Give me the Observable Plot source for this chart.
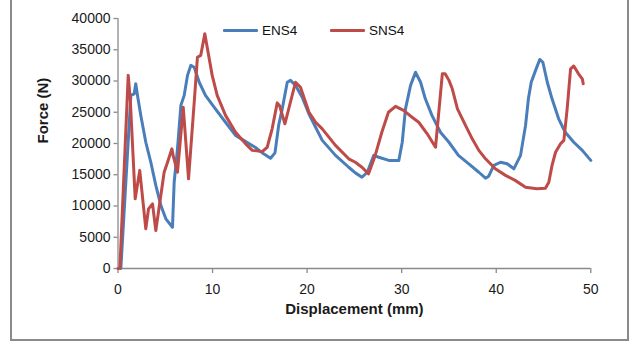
<!DOCTYPE html>
<html>
<head>
<meta charset="utf-8">
<script src="https://cdn.jsdelivr.net/npm/d3@7"></script>
<script src="https://cdn.jsdelivr.net/npm/@observablehq/plot@0.6"></script>
<style>
  body { margin: 0; background: #fff; }
  #wrap { position: relative; width: 629px; height: 342px; overflow: hidden; background: #fff; }
  #frame { position: absolute; left: 10px; top: -5px; width: 619px; height: 346px; box-sizing: border-box; border: 2px solid #8a8a8a; }
  #chart { position: absolute; left: 0; top: 0; }
  .leg { position: absolute; display: flex; align-items: center; font-family: "Liberation Sans", Arial, sans-serif; font-size: 13.5px; color: #111; }
  .leg .sw { width: 35px; height: 3px; margin-right: 4px; border-radius: 1px; }
</style>
</head>
<body>
<div id="wrap">
  <div id="frame"></div>
  <div id="chart"></div>
  <div id="legend"></div>
</div>
<script>
// ---- data ----
const seriesNames = ["ENS4", "SNS4"];
const seriesColors = ["#4A7EBB", "#BE4B48"];

const ens4X = [0.2, 0.3, 1.36, 1.71, 1.88, 2.06, 2.41, 2.94, 3.47, 4.0, 4.53, 5.06, 5.76, 5.94, 6.29, 6.65, 7.0, 7.35, 7.7, 8.06, 8.59, 9.25, 10.3, 11.37, 12.43, 13.5, 14.5, 15.4, 16.13, 16.6, 17.0, 17.37, 17.9, 18.24, 18.77, 19.48, 20.18, 20.9, 21.6, 23.0, 24.4, 25.1, 25.8, 26.36, 27.05, 27.58, 28.64, 29.7, 30.06, 30.4, 30.94, 31.46, 32.0, 32.5, 33.2, 34.1, 35.0, 36.0, 37.1, 38.16, 38.87, 39.2, 39.75, 40.45, 41.16, 41.86, 42.57, 43.1, 43.4, 43.7, 44.16, 44.6, 44.93, 45.4, 45.9, 46.6, 47.3, 48.2, 49.1, 50.0];
const ens4Y = [0, 0, 27700, 27950, 29550, 27700, 24500, 20200, 17000, 13300, 10100, 7950, 6600, 13800, 19150, 26100, 27700, 30900, 32500, 32200, 29800, 27700, 25550, 23400, 21300, 20300, 19400, 18350, 17650, 18500, 23000, 25550, 29800, 30100, 29300, 27400, 24750, 22600, 20500, 18100, 16200, 15300, 14600, 15400, 18100, 17800, 17300, 17300, 20200, 25550, 29300, 31400, 29800, 27150, 24500, 21800, 20200, 18100, 16750, 15400, 14450, 14770, 16500, 17000, 16750, 15950, 18100, 22900, 27150, 29800, 31700, 33450, 33000, 29800, 27150, 23950, 21800, 20200, 18900, 17300];

const sns4X = [0.0, 0.2, 1.08, 1.3, 1.82, 2.3, 2.94, 3.23, 3.65, 4.0, 4.88, 5.24, 5.7, 5.83, 6.29, 6.9, 7.46, 8.06, 8.4, 8.75, 9.18, 9.96, 10.49, 11.37, 12.43, 13.5, 14.2, 15.25, 15.78, 16.3, 16.84, 17.1, 17.65, 18.77, 19.3, 20.2, 20.9, 21.6, 23.0, 24.4, 25.1, 25.8, 26.5, 27.2, 27.9, 28.6, 29.35, 30.2, 31.1, 31.8, 32.7, 33.58, 34.3, 34.6, 35.0, 35.35, 35.9, 36.75, 37.46, 38.16, 38.87, 39.9, 40.98, 42.0, 43.1, 44.3, 45.2, 45.56, 45.9, 46.27, 46.8, 47.15, 47.5, 47.86, 48.2, 48.7, 49.1, 49.2];
const sns4Y = [0, 0, 30900, 27000, 11150, 15700, 6350, 9550, 10350, 6080, 15400, 17000, 19150, 18100, 15400, 25800, 14350, 26600, 33800, 34100, 37550, 30900, 27700, 24500, 21800, 19950, 18900, 18700, 19400, 22350, 26500, 26000, 23150, 29800, 29000, 25000, 23400, 22350, 19700, 17550, 17000, 16200, 15150, 18100, 21800, 25000, 25950, 25300, 24200, 23400, 21550, 19400, 31150, 31150, 30100, 28750, 25550, 22900, 20750, 18900, 17550, 15950, 14900, 14100, 13000, 12750, 12850, 13800, 16500, 18600, 19950, 20500, 25550, 31950, 32400, 31150, 30350, 29550];

const xTicks = [0, 10, 20, 30, 40, 50];
const yTicks = [0, 5000, 10000, 15000, 20000, 25000, 30000, 35000, 40000];
const xTitle = "Displacement (mm)";
const yTitle = "Force (N)";

// ---- build tables ----
const ens4 = ens4X.map((x, i) => ({x, y: ens4Y[i]}));
const sns4 = sns4X.map((x, i) => ({x, y: sns4Y[i]}));

const axisGray = "#8a8a8a";
const textColor = "#1a1a1a";

const chart = Plot.plot({
  width: 629,
  height: 342,
  marginLeft: 117.5,
  marginRight: 38.7,
  marginTop: 18,
  marginBottom: 74,
  style: {fontFamily: "'Liberation Sans', Arial, sans-serif", fontSize: "14px", color: textColor, background: "transparent", overflow: "visible"},
  x: {domain: [0, 50]},
  y: {domain: [0, 40000]},
  marks: [
    Plot.ruleX([0], {stroke: axisGray, strokeWidth: 1.3}),
    Plot.ruleY([0], {stroke: axisGray, strokeWidth: 1.3}),
    Plot.axisY({ticks: yTicks, tickSize: 4, tickPadding: 3.5, tickFormat: d => String(d), label: null, stroke: axisGray, fill: textColor, strokeWidth: 1.3}),
    Plot.axisX({ticks: xTicks, tickSize: 5, tickPadding: 11, tickFormat: d => String(d), label: null, stroke: axisGray, fill: textColor, strokeWidth: 1.3}),
    Plot.text([yTitle], {frameAnchor: "left", rotate: -90, dx: -75, fontWeight: "bold", fontSize: 15, fill: textColor}),
    Plot.text([xTitle], {frameAnchor: "bottom", dy: 45, fontWeight: "bold", fontSize: 15, fill: textColor}),
    Plot.line(ens4, {x: "x", y: "y", stroke: seriesColors[0], strokeWidth: 3, strokeLinejoin: "round", strokeLinecap: "round"}),
    Plot.line(sns4, {x: "x", y: "y", stroke: seriesColors[1], strokeWidth: 3, strokeLinejoin: "round", strokeLinecap: "round"})
  ]
});
document.getElementById("chart").appendChild(chart);

// ---- legend ----
const legend = document.getElementById("legend");
const legendLeft = [223, 330];
seriesNames.forEach((name, i) => {
  const item = document.createElement("div");
  item.className = "leg";
  item.style.left = legendLeft[i] + "px";
  item.style.top = "23px";
  const sw = document.createElement("span");
  sw.className = "sw";
  sw.style.background = seriesColors[i];
  const t = document.createElement("span");
  t.textContent = name;
  item.appendChild(sw);
  item.appendChild(t);
  legend.appendChild(item);
});
</script>
</body>
</html>
